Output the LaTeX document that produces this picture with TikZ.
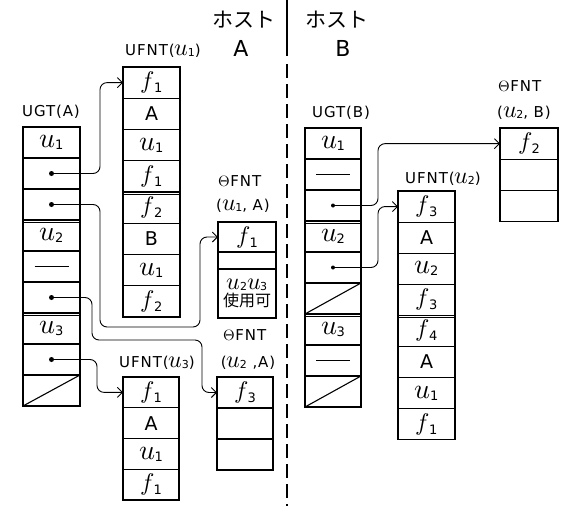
\documentclass[tikz,border=0pt]{standalone}
\usepackage{fontspec}
\usepackage{unicode-math}
\setmainfont{DejaVu Sans}
\setmathfont{Latin Modern Math}
\newfontfamily\jp{Noto Sans CJK JP}
\usetikzlibrary{arrows.meta}
\newcommand\cu[1]{{\fontsize{28}{28}\selectfont$u$}\kern-0.5pt\raisebox{-2pt}{\fontsize{13}{13}\selectfont #1}}
\newcommand\cf[1]{{\fontsize{24}{24}\selectfont$f$}\kern-0.5pt\raisebox{-4pt}{\fontsize{13}{13}\selectfont #1}}
\newcommand\tu[1]{{\fontsize{24}{24}\selectfont$u$}\kern-0.5pt\raisebox{-1pt}{\fontsize{11}{11}\selectfont #1}}
\begin{document}
\begin{tikzpicture}[x=1pt,y=-1pt, line width=1.1pt,
  cell/.style={draw, inner sep=0pt, outer sep=0pt, anchor=north west, font=\fontsize{19}{19}\selectfont},
  ttl/.style={font=\addfontfeature{LetterSpace=6}\fontsize{15}{15}\selectfont, inner sep=0pt},
  hdr/.style={font=\jp\fontsize{21}{21}\selectfont, inner sep=0pt},
  conn/.style={line width=0.9pt, rounded corners=7pt},
  arr/.style={-{Straight Barb[length=5pt,width=10pt]}},
  dotmark/.style={circle, fill, inner sep=0pt, minimum size=5pt},
  dashmark/.style={line width=0.9pt}]
\useasboundingbox (0,0) rectangle (571,506);

% header
\node[hdr] (hA) at (244,20) {ホスト};
\node[ttl, font=\fontsize{22}{22}\selectfont] (hAA) at (241,48) {A};
\node[hdr] (hB) at (337,20) {ホスト};
\node[ttl, font=\fontsize{22}{22}\selectfont] (hBB) at (343,48) {B};
\draw[line width=1.2pt] (287,0) -- (287,56);
\draw[line width=1.2pt, dash pattern=on 14pt off 6pt] (287,64) -- (287,506);

% UGT(A)
\node[ttl] (tga) at (51,112) {UGT(A)};
\foreach \t [count=\i] in {{\cu1},{},{},{\cu2},{},{},{\cu3},{},{}}
  \node[cell, minimum width=57pt, minimum height=31pt] (ga\i) at (23,{127+31*(\i-1)}) {\t};
\draw ([yshift=-2.5pt]ga4.north west) -- ([yshift=-2.5pt]ga4.north east);
\draw ([yshift=-2.5pt]ga7.north west) -- ([yshift=-2.5pt]ga7.north east);
\node[dotmark] (ga2d) at (ga2.center) {};
\node[dotmark] (ga3d) at (ga3.center) {};
\node[dotmark] (ga6d) at (ga6.center) {};
\node[dotmark] (ga8d) at (ga8.center) {};
\draw[dashmark] ([xshift=-17pt]ga5.center) -- ([xshift=17pt]ga5.center);
\draw (ga9.south west) -- (ga9.north east);

% UFNT(u1)
\node[ttl] (tfa) at (163,51) {UFNT(\tu1)};
\foreach \t [count=\i] in {{\cf1},{A},{\cu1},{\cf1},{\cf2},{B},{\cu1},{\cf2}}
  \node[cell, minimum width=57pt, minimum height=31.25pt] (fa\i) at (123,{67+31.25*(\i-1)}) {\t};
\draw ([yshift=-2.5pt]fa5.north west) -- ([yshift=-2.5pt]fa5.north east);

% OFNT(u1,A)
\node[ttl] (toa1) at (240,181) {$\Theta$FNT};
\node[ttl] (toa2) at (243,206) {(\tu1, A)};
\node[cell, minimum width=58pt, minimum height=30pt] (oa1) at (218,222) {\cf1};
\node[cell, minimum width=58pt, minimum height=17pt] (oa2) at (218,252) {};
\node[cell, minimum width=58pt, minimum height=49pt, align=center, font=\fontsize{15}{17}\selectfont] (oa3) at (218,269) {\tu2\tu3\\{\jp\fontsize{16}{16}\selectfont 使用可}};

% UFNT(u3)
\node[ttl] (tfc) at (157,363) {UFNT(\tu3)};
\foreach \t [count=\i] in {{\cf1},{A},{\cu1},{\cf1}}
  \node[cell, minimum width=56pt, minimum height=30.75pt] (fc\i) at (123,{377+30.75*(\i-1)}) {\t};

% OFNT(u2,A)
\node[ttl] (tob1) at (245,335) {$\Theta$FNT};
\node[ttl] (tob2) at (248,363) {(\tu2 ,A)};
\foreach \t [count=\i] in {{\cf3},{},{}}
  \node[cell, minimum width=56pt, minimum height=31pt] (ob\i) at (217,{377+31*(\i-1)}) {\t};

% UGT(B)
\node[ttl] (tgb) at (341,113) {UGT(B)};
\foreach \t [count=\i] in {{\cu1},{},{},{\cu2},{},{},{\cu3},{},{}}
  \node[cell, minimum width=56pt, minimum height=31pt] (gb\i) at (305,{128+31*(\i-1)}) {\t};
\draw ([yshift=-2.5pt]gb4.north west) -- ([yshift=-2.5pt]gb4.north east);
\draw ([yshift=-2.5pt]gb7.north west) -- ([yshift=-2.5pt]gb7.north east);
\node[dotmark, minimum size=4pt] (gb3d) at (gb3.center) {};
\node[dotmark, minimum size=4pt] (gb5d) at (gb5.center) {};
\draw[dashmark] ([xshift=-17pt]gb2.center) -- ([xshift=17pt]gb2.center);
\draw[dashmark] ([xshift=-17pt]gb8.center) -- ([xshift=17pt]gb8.center);
\draw (gb6.south west) -- (gb6.north east);
\draw (gb9.south west) -- (gb9.north east);

% UFNT(u2)
\node[ttl] (tfb) at (443,179) {UFNT(\tu2)};
\foreach \t [count=\i] in {{\cf3},{A},{\cu2},{\cf3},{\cf4},{A},{\cu1},{\cf1}}
  \node[cell, minimum width=57pt, minimum height=31.1pt] (fb\i) at (398,{191+31.1*(\i-1)}) {\t};
\draw ([yshift=-2.5pt]fb5.north west) -- ([yshift=-2.5pt]fb5.north east);

% OFNT(u2,B)
\node[ttl] (toc1) at (520,86) {$\Theta$FNT};
\node[ttl] (toc2) at (524,113) {(\tu2, B)};
\foreach \t [count=\i] in {{\cf2},{},{}}
  \node[cell, minimum width=58pt, minimum height=31.3pt] (oc\i) at (500,{128+31.3*(\i-1)}) {\t};

% connectors
\draw[conn, arr] (ga2d.center) -| ([xshift=-23pt]fa1.west) -- (fa1.west);
\draw[conn, arr] (ga3d.center) -| (100,327) -| ([xshift=-18pt]oa1.west) -- (oa1.west);
\draw[conn, arr] (ga6d.center) -| (92,340) -| ([xshift=-15pt]ob1.west) -- (ob1.west);
\draw[conn, arr] (ga8d.center) -| ([xshift=-26pt]fc1.west) -- (fc1.west);
\draw[conn, arr] (gb3d.center) -| ([xshift=-122pt]oc1.west) -- (oc1.west);
\draw[conn, arr] (gb5d.center) -| ([xshift=-20pt]fb1.west) -- (fb1.west);
\end{tikzpicture}
\end{document}
